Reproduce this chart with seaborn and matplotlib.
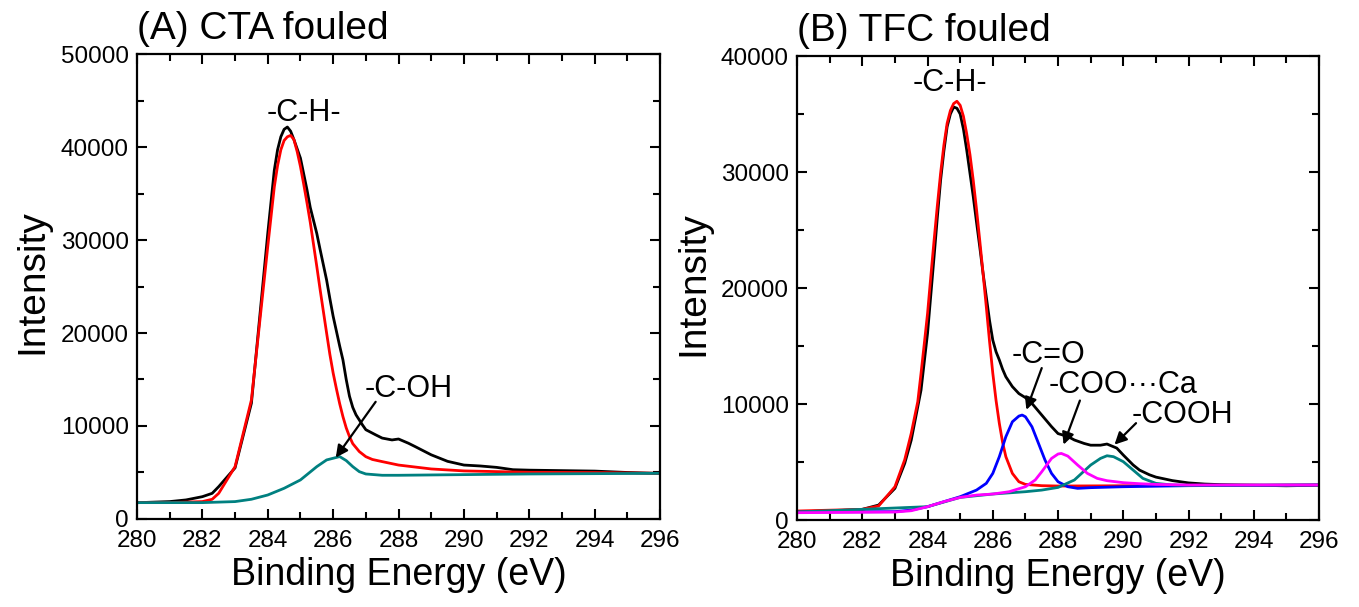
import numpy as np
import pandas as pd
import matplotlib
matplotlib.use("Agg")
import matplotlib.pyplot as plt
from matplotlib.ticker import MultipleLocator
import seaborn as sns

# --- (A) CTA fouled : C1s spectrum ---
a_raw_x = [280, 281, 281.5, 282, 282.3, 282.5, 283, 283.5, 284, 284.2, 284.3, 284.4, 284.5,
           284.6, 284.7, 284.8, 284.9, 285, 285.2, 285.3, 285.5, 285.6, 285.8, 285.9, 286,
           286.1, 286.2, 286.3, 286.4, 286.5, 286.6, 286.7, 286.8, 286.9, 287, 287.3, 287.5,
           287.8, 288, 288.3, 288.5, 289, 289.5, 290, 290.5, 291, 291.5, 292, 293, 294, 295, 296]
a_raw_y = [1750, 1870, 2050, 2400, 2760, 3480, 5500, 12450, 30700, 37500, 39700, 41100, 41900,
           42150, 41700, 40800, 39800, 38800, 35400, 33500, 30700, 29000, 25700, 23700, 21800,
           20200, 18600, 17100, 15000, 13200, 12000, 11200, 10650, 10100, 9600, 9050, 8700,
           8500, 8600, 8150, 7800, 6900, 6200, 5800, 5700, 5550, 5300, 5250, 5200, 5150, 5000, 4900]

a_ch_x = [280, 281, 282, 282.3, 282.5, 283, 283.5, 284, 284.2, 284.3, 284.4, 284.5, 284.6,
          284.7, 284.8, 284.9, 285, 285.1, 285.2, 285.3, 285.5, 285.6, 285.8, 285.9, 286,
          286.1, 286.2, 286.3, 286.4, 286.5, 286.6, 286.8, 287, 287.2, 287.5, 288, 289, 290,
          292, 294, 296]
a_ch_y = [1760, 1760, 1870, 2120, 2760, 5630, 12800, 29300, 35700, 38000, 39700, 40700, 41100,
          41250, 40800, 39500, 37900, 36000, 34000, 31900, 27150, 24700, 20000, 17700, 15700,
          14000, 12400, 11000, 9800, 8860, 8100, 7250, 6700, 6400, 6170, 5800, 5380, 5170,
          5020, 4990, 4910]

a_coh_x = [280, 282, 283, 283.5, 284, 284.5, 285, 285.5, 285.8, 286, 286.2, 286.4, 286.6,
           286.8, 287, 287.5, 288, 290, 292, 296]
a_coh_y = [1760, 1760, 1870, 2120, 2580, 3300, 4200, 5630, 6350, 6530, 6710, 6280, 5630,
           5090, 4840, 4700, 4700, 4770, 4840, 4910]

# --- (B) TFC fouled ---
b_raw_x = [280, 281, 282, 282.5, 283, 283.3, 283.5, 283.8, 284, 284.1, 284.2, 284.3, 284.4,
           284.5, 284.6, 284.7, 284.8, 284.9, 285, 285.1, 285.2, 285.3, 285.4, 285.5, 285.6,
           285.7, 285.8, 285.9, 286, 286.1, 286.2, 286.3, 286.4, 286.6, 286.8, 287, 287.2,
           287.5, 287.8, 288, 288.3, 288.5, 288.8, 289, 289.3, 289.5, 289.8, 290, 290.3,
           290.5, 290.8, 291, 291.5, 292, 292.5, 293, 294, 295, 296]
b_raw_y = [720, 775, 920, 1290, 2730, 4880, 6890, 11200, 16100, 19400, 22700, 26100, 29300,
           31800, 33900, 35000, 35600, 35500, 35000, 33700, 31900, 29900, 27900, 25700, 23550,
           21300, 19250, 17200, 15500, 14500, 13800, 13000, 12350, 11500, 10900, 10550, 10050,
           9050, 8050, 7450, 7200, 6900, 6600, 6450, 6450, 6550, 6200, 5600, 4750,
           4300, 3900, 3700, 3400, 3200, 3100, 3050, 3000, 2950, 3000]

b_ch_x = [280, 282, 282.5, 283, 283.3, 283.5, 283.7, 283.8, 283.9, 284, 284.1, 284.2, 284.3,
          284.4, 284.5, 284.6, 284.7, 284.8, 284.9, 285, 285.1, 285.2, 285.3, 285.4, 285.5,
          285.6, 285.7, 285.8, 285.9, 286, 286.1, 286.2, 286.3, 286.4, 286.6, 286.8, 287,
          287.5, 288, 296]
b_ch_y = [775, 920, 1210, 2870, 5200, 7470, 10200, 12640, 15200, 17800, 21000, 24100, 27100,
          29900, 32300, 34200, 35300, 35900, 36100, 35750, 34800, 33300, 31500, 29300, 26800,
          24100, 21300, 18400, 15400, 12650, 10300, 8330, 6700, 5460, 4020, 3300, 3070,
          2960, 2930, 3020]

b_co_x = [280, 283, 283.5, 284, 284.5, 285, 285.5, 285.8, 286, 286.2, 286.4, 286.6, 286.8,
          286.9, 287, 287.2, 287.4, 287.6, 287.8, 288, 288.3, 288.6, 289, 290, 292, 296]
b_co_y = [690, 720, 860, 1150, 1580, 2010, 2580, 3160, 4020, 5460, 7180, 8470, 8960,
          9050, 8900, 8040, 6610, 5170, 4020, 3300, 2870, 2730, 2790, 2870, 2960, 3020]

b_cooca_x = [280, 283, 283.5, 284, 284.5, 285, 285.5, 286, 286.5, 287, 287.3, 287.5, 287.8,
             288, 288.1, 288.3, 288.6, 288.9, 289.2, 289.5, 290, 290.5, 291, 292, 296]
b_cooca_y = [630, 690, 800, 1150, 1580, 1950, 2150, 2240, 2440, 2870, 3450, 4160, 5310,
             5690, 5740, 5510, 4740, 4020, 3590, 3390, 3220, 3130, 3070, 3020, 3020]

b_cooh_x = [280, 284, 285, 286, 287, 287.5, 288, 288.5, 289, 289.3, 289.5, 289.7, 290,
            290.3, 290.6, 291, 291.5, 292, 296]
b_cooh_y = [690, 1150, 1950, 2240, 2440, 2580, 2810, 3450, 4740, 5310, 5540, 5460, 5030,
            4310, 3590, 3160, 3020, 2990, 3020]

sns.set_theme(style="ticks", rc={'text.color': 'black', 'axes.labelcolor': 'black',
                                 'xtick.color': 'black', 'ytick.color': 'black',
                                 'axes.edgecolor': 'black'})
plt.rcParams['font.family'] = ['Liberation Sans', 'DejaVu Sans']

fig = plt.figure(figsize=(13.59, 6.07), dpi=100)
ax_a = fig.add_axes([0.1008, 0.145, 0.3849, 0.766])
ax_b = fig.add_axes([0.5865, 0.1433, 0.3841, 0.7644])

lw = 2.0


def draw(ax, x, y, color):
    sns.lineplot(x=x, y=y, color=color, lw=lw, ax=ax, sort=False)


draw(ax_a, a_raw_x, a_raw_y, 'black')
draw(ax_a, a_ch_x, a_ch_y, '#ff0000')
draw(ax_a, a_coh_x, a_coh_y, '#008080')

draw(ax_b, b_raw_x, b_raw_y, 'black')
draw(ax_b, b_ch_x, b_ch_y, '#ff0000')
draw(ax_b, b_co_x, b_co_y, '#0000ff')
draw(ax_b, b_cooh_x, b_cooh_y, '#008080')
draw(ax_b, b_cooca_x, b_cooca_y, '#ff00ff')

for ax, ymax, title in [(ax_a, 50000, '(A) CTA fouled'), (ax_b, 40000, '(B) TFC fouled')]:
    ax.set_xlim(280, 296)
    ax.set_ylim(0, ymax)
    ax.xaxis.set_major_locator(MultipleLocator(2))
    ax.xaxis.set_minor_locator(MultipleLocator(1))
    ax.yaxis.set_major_locator(MultipleLocator(10000))
    ax.yaxis.set_minor_locator(MultipleLocator(5000))
    ax.tick_params(which='both', direction='in', top=True, right=True, width=1.5,
                   labelsize=17.5, colors='black')
    ax.tick_params(which='major', length=7)
    ax.tick_params(which='minor', length=5)
    ax.tick_params(axis='x', which='major', pad=8)
    ax.tick_params(axis='y', which='major', pad=6)
    for s in ax.spines.values():
        s.set_linewidth(1.6)
        s.set_color('black')
    ax.set_xlabel('Binding Energy (eV)', fontsize=27)
    ax.set_ylabel('Intensity', fontsize=28)
    ax.xaxis.set_label_coords(0.5, -0.082)
    ax.yaxis.set_label_coords(-0.165, 0.51)
    ax.text(0.0, 1.032, title, transform=ax.transAxes, fontsize=28,
            ha='left', va='baseline')

arrow = dict(arrowstyle='-|>', color='black', lw=1.6, mutation_scale=18,
             shrinkA=0, shrinkB=0)
fs = 22

ax_a.text(285.1, 43700, '-C-H-', fontsize=fs, ha='center', va='center')
ax_a.text(288.3, 14000, '-C-OH', fontsize=fs, ha='center', va='center')
ax_a.annotate('', xy=(286.08, 6600), xytext=(287.3, 12600), arrowprops=arrow)

ax_b.text(284.7, 37700, '-C-H-', fontsize=fs, ha='center', va='center')
ax_b.text(287.7, 14200, '-C=O', fontsize=fs, ha='center', va='center')
ax_b.annotate('', xy=(287.03, 9500), xytext=(287.5, 13100), arrowprops=arrow)
ax_b.text(290.0, 11600, '-COO\u00b7\u00b7\u00b7Ca', fontsize=fs, ha='center', va='center')
ax_b.annotate('', xy=(288.17, 6500), xytext=(288.67, 10300), arrowprops=arrow)
ax_b.text(291.8, 9050, '-COOH', fontsize=fs, ha='center', va='center')
ax_b.annotate('', xy=(289.73, 6500), xytext=(290.39, 8350), arrowprops=arrow)

fig.savefig('out.png', dpi=100)
